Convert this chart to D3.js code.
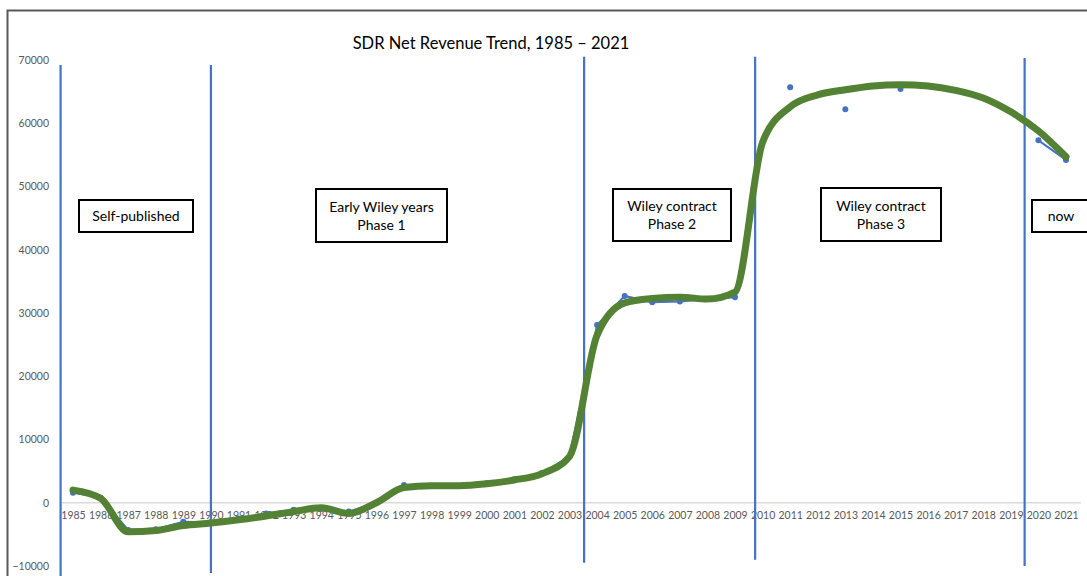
<!DOCTYPE html>
<html><head><meta charset="utf-8">
<script src="https://cdn.jsdelivr.net/npm/d3@7"></script>
<style>
html,body{margin:0;padding:0;background:#fff;}
svg{display:block;}
</style></head>
<body>
<svg id="chart" width="1087" height="576"></svg>
<script>
// ---- data ----
const years = d3.range(1985, 2022);
const tickYears = d3.range(1985, 2022);
const yTicks = [-10000, 0, 10000, 20000, 30000, 40000, 50000, 60000, 70000];
const revenue = [1600, 800, -4300, -4200, -3000, -3100, -2500, -1700, -1100, -1000, -1400, 0, 2800, 2700, 2700, 3100, 3700, 4700, 7300, 28100, 32700, 31700, 31800, 32200, 32500, null, 65700, null, 62200, null, 65400, null, null, null, null, 57300, 54200];
const trend = [2000, 700, -4600, -4400, -3600, -3200, -2700, -2100, -1400, -800, -1700, 0, 2400, 2700, 2700, 3000, 3600, 4600, 7300, 26500, 31600, 32300, 32500, 32200, 33300, 57000, 62600, 64500, 65300, 65900, 66100, 65900, 65200, 64000, 61800, 58800, 54700];
const phaseYears = [1984.55, 1990, 2003.53, 2009.73, 2019.5];
const phaseTop = [69200, 69200, 70500, 70500, 70300];
const phaseBottom = [-11600, -11100, -9500, -9000, -10000];
const phaseLabels = [["Self-published"], ["Early Wiley years", "Phase 1"], ["Wiley contract", "Phase 2"], ["Wiley contract", "Phase 3"], ["now"]];
const title = "SDR Net Revenue Trend, 1985 \u2013 2021";

// ---- layout ----
const svg = d3.select("#chart");
const x = d3.scaleLinear().domain([1985, 2021]).range([73, 1066]);
const y = d3.scaleLinear().domain([-10000, 70000]).range([566, 60]);
const labelFont = "Lato, 'Liberation Sans', sans-serif";
const boxes = [
  {x0: 79, x1: 193, y0: 200, y1: 232},
  {x0: 316, x1: 447, y0: 189, y1: 242},
  {x0: 613, x1: 731, y0: 189, y1: 241},
  {x0: 821, x1: 941, y0: 188, y1: 241},
  {x0: 1032, x1: 1100, y0: 200, y1: 232}
];

// outer frame
svg.append("path").attr("d", "M7.5,576 L7.5,10.5 L1087,10.5")
  .attr("fill", "none").attr("stroke", "#595959").attr("stroke-width", 2);

// title
svg.append("text").attr("x", 491).attr("y", 49).attr("text-anchor", "middle")
  .attr("font-family", labelFont).attr("font-size", 16.5).attr("fill", "#000").text(title);

// zero line
svg.append("line").attr("x1", 62).attr("x2", 1081).attr("y1", y(0)).attr("y2", y(0))
  .attr("stroke", "#d9d9d9").attr("stroke-width", 1.5);

// y axis labels
const yAxis = d3.axisLeft(y).tickValues(yTicks).tickSize(0).tickPadding(0).tickFormat(d3.format("d"));
const gy = svg.append("g").attr("transform", "translate(49,0)").call(yAxis);
gy.select(".domain").remove();
gy.selectAll("text").attr("font-family", labelFont).attr("font-size", 10.5).attr("fill", "#595959");

// x axis labels
const xAxis = d3.axisBottom(x).tickValues(tickYears).tickSize(0).tickPadding(0).tickFormat(d3.format("d"));
const gx = svg.append("g").attr("transform", `translate(0,${y(0) + 9})`).call(xAxis);
gx.select(".domain").remove();
gx.selectAll("text").attr("font-family", labelFont).attr("font-size", 10.5).attr("fill", "#595959");

// phase boundary lines
svg.append("g").selectAll("line").data(phaseYears).join("line")
  .attr("x1", d => x(d)).attr("x2", d => x(d))
  .attr("y1", (d, i) => y(phaseTop[i])).attr("y2", (d, i) => y(phaseBottom[i]))
  .attr("stroke", "#4472C4").attr("stroke-width", 2.2);

// revenue series
const revData = years.map((yr, i) => ({yr, v: revenue[i]}));
const blueLine = d3.line().defined(d => d.v != null).x(d => x(d.yr)).y(d => y(d.v)).curve(d3.curveLinear);
svg.append("path").datum(revData).attr("d", blueLine)
  .attr("fill", "none").attr("stroke", "#4472C4").attr("stroke-width", 2);
svg.append("g").selectAll("circle").data(revData.filter(d => d.v != null)).join("circle")
  .attr("cx", d => x(d.yr)).attr("cy", d => y(d.v)).attr("r", 3).attr("fill", "#4472C4");

// trend
const trendData = years.map((yr, i) => ({yr, v: trend[i]}));
const greenLine = d3.line().x(d => x(d.yr)).y(d => y(d.v)).curve(d3.curveMonotoneX);
svg.append("path").datum(trendData).attr("d", greenLine)
  .attr("fill", "none").attr("stroke", "#548235").attr("stroke-width", 7)
  .attr("stroke-linecap", "round").attr("stroke-linejoin", "round");

// annotation boxes
const gb = svg.append("g");
phaseLabels.forEach((lines, i) => {
  const b = boxes[i];
  gb.append("rect").attr("x", b.x0).attr("y", b.y0).attr("width", b.x1 - b.x0).attr("height", b.y1 - b.y0)
    .attr("fill", "#fff").attr("stroke", "#000").attr("stroke-width", 2);
  const cx = i === 4 ? 1061 : (b.x0 + b.x1) / 2;
  const cy = (b.y0 + b.y1) / 2;
  const lh = 18;
  lines.forEach((t, j) => {
    gb.append("text").attr("x", cx).attr("y", cy + (j - (lines.length - 1) / 2) * lh + 5)
      .attr("text-anchor", "middle").attr("font-family", labelFont).attr("font-size", 14)
      .attr("fill", "#000").text(t);
  });
});
</script>
</body></html>
